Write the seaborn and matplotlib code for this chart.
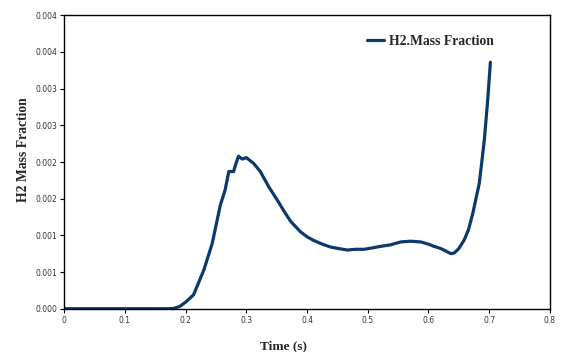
import matplotlib
matplotlib.use("Agg")
import matplotlib.pyplot as plt
import matplotlib.ticker as mticker
import seaborn as sns
import pandas as pd
import decimal

time_s = [0.0, 0.05, 0.10, 0.15, 0.17, 0.18, 0.19, 0.20, 0.213, 0.22, 0.23, 0.2437,
          0.257, 0.265, 0.271, 0.279, 0.282, 0.287, 0.293, 0.300, 0.312, 0.323,
          0.337, 0.351, 0.362, 0.373, 0.389, 0.40, 0.411, 0.425, 0.439, 0.452,
          0.4665, 0.48, 0.494, 0.508, 0.521, 0.537, 0.554, 0.57, 0.5875, 0.60,
          0.609, 0.6205, 0.63, 0.637, 0.6425, 0.65, 0.659, 0.666, 0.673, 0.6837,
          0.692, 0.6975, 0.702]
h2_mass_fraction = [0.0, 0.0, 0.0, 0.0, 0.0, 0.000003, 0.00003, 0.00009, 0.00019, 0.00033,
                    0.00053, 0.00089, 0.00141, 0.00162, 0.00187, 0.00187, 0.00196,
                    0.00208, 0.00204, 0.00206, 0.00198, 0.00187, 0.00166, 0.00148,
                    0.00133, 0.00119, 0.00105, 0.00098, 0.00093, 0.00088, 0.00084,
                    0.00082, 0.00080, 0.00081, 0.00081, 0.00083, 0.00085, 0.00087,
                    0.00091, 0.00092, 0.00091, 0.00088, 0.00085, 0.00082, 0.00078,
                    0.00075, 0.00076, 0.00082, 0.00094, 0.00108, 0.0013, 0.00171,
                    0.0023, 0.00284, 0.00336]

df = pd.DataFrame({"Time (s)": time_s, "H2.Mass Fraction": h2_mass_fraction})

sns.set_style("white")
plt.rcParams["font.family"] = ["DejaVu Sans"]

fig = plt.figure(figsize=(5.63, 3.52), dpi=100)
ax = fig.add_axes([0.1142, 0.123, 0.8625, 0.8335])

sns.lineplot(data=df, x="Time (s)", y="H2.Mass Fraction", ax=ax,
             color="#0a3a6b", linewidth=2.3, label="H2.Mass Fraction")

ax.set_xlim(0, 0.8)
ax.set_ylim(0, 0.004)
ax.xaxis.set_major_locator(mticker.MultipleLocator(0.1))
ax.yaxis.set_major_locator(mticker.MultipleLocator(0.0005))
ax.xaxis.set_major_formatter(mticker.FuncFormatter(lambda v, p: "0" if abs(v) < 1e-9 else f"{v:.1f}"))


def yfmt(v, p):
    # Excel-like round half up to 3 decimals
    d = decimal.Decimal(f"{float(v):.6f}").quantize(decimal.Decimal("0.001"),
                                                   rounding=decimal.ROUND_HALF_UP)
    return str(d)


ax.yaxis.set_major_formatter(mticker.FuncFormatter(yfmt))

ax.tick_params(axis="both", which="major", labelsize=5.5, length=3, width=0.8,
               direction="out", bottom=True, left=True, colors="black",
               labelcolor="#333333", pad=2)
for sp in ax.spines.values():
    sp.set_visible(True)
    sp.set_color("black")
    sp.set_linewidth(1.0)

ax.set_xlabel("Time (s)", fontsize=9.6, fontweight="bold", family="Liberation Serif")
ax.set_ylabel("H2 Mass Fraction", fontsize=9.8, fontweight="bold", family="Liberation Serif")
ax.xaxis.set_label_coords(0.4515, -0.108)
ax.yaxis.set_label_coords(-0.071, 0.542)

leg = ax.legend(loc="center left", bbox_to_anchor=(0.598, 0.911), frameon=False,
                handlelength=1.25, handletextpad=0.4,
                prop={"family": "Liberation Serif", "weight": "bold", "size": 9.8})

fig.savefig("out.png", dpi=100)
